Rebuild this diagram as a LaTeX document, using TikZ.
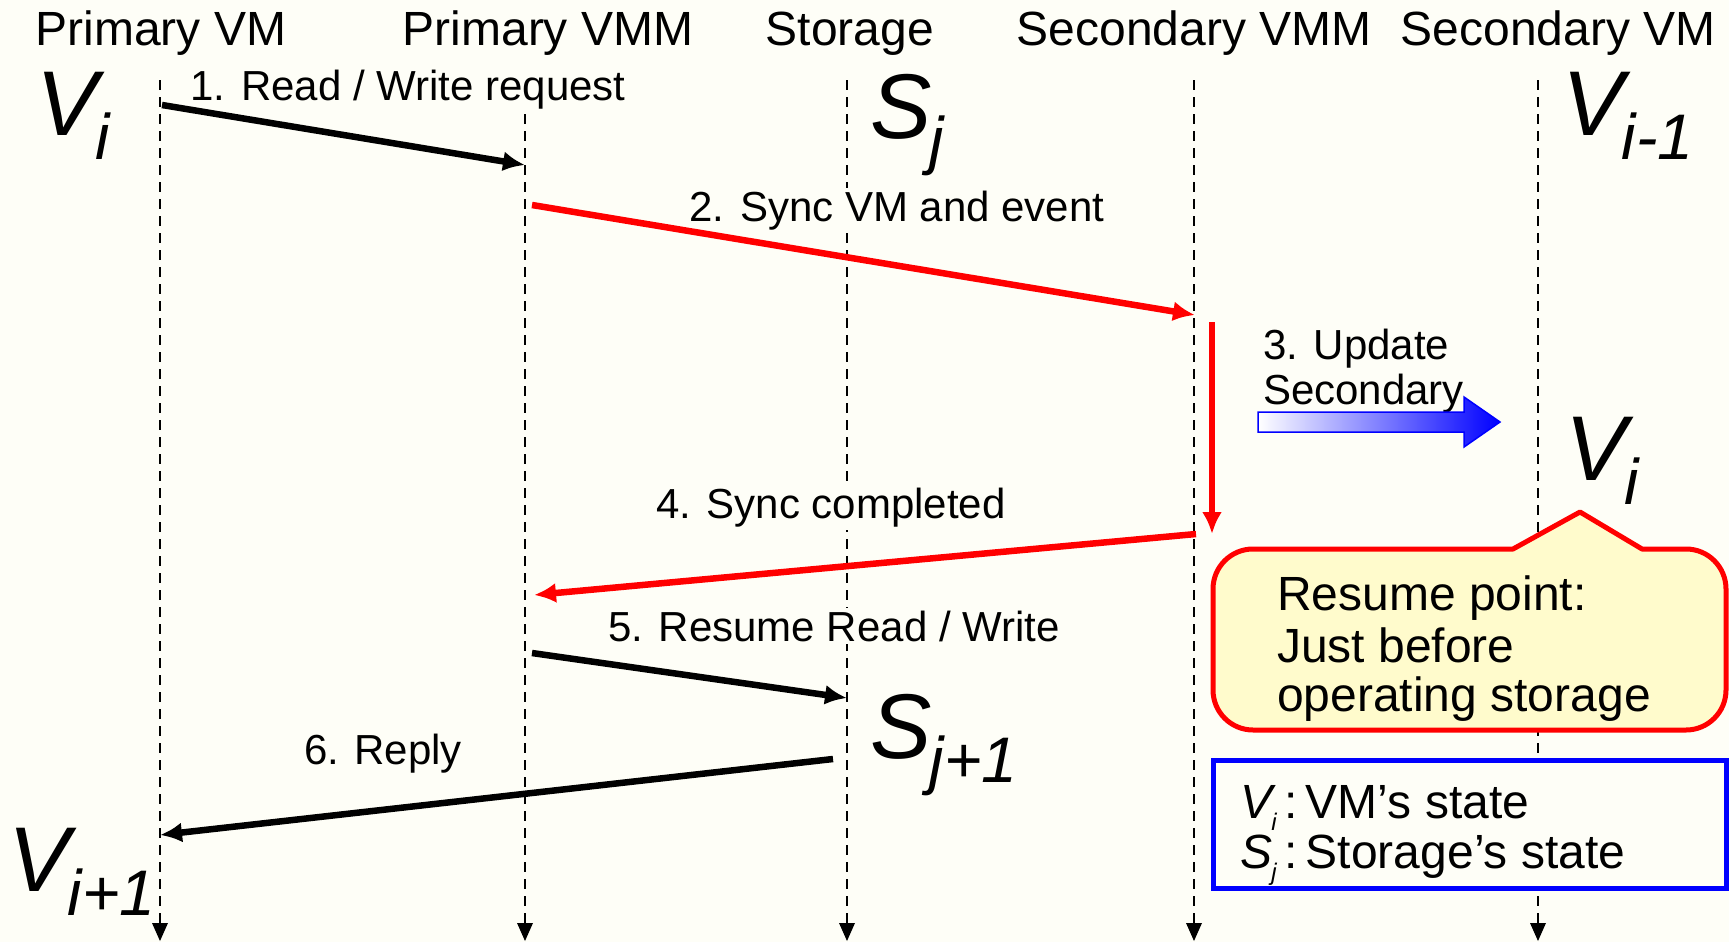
\documentclass[tikz,border=0pt]{standalone}
\usepackage{fontspec}
\setmainfont{Liberation Sans}
\usetikzlibrary{arrows.meta}
\definecolor{bg}{RGB}{254,254,247}
\definecolor{calloutfill}{RGB}{255,251,204}
\definecolor{sigred}{RGB}{255,0,0}
\definecolor{legblue}{RGB}{0,0,255}
% state symbol with a lowered, reduced subscript
\newcommand\stlabel[3][0.7]{{\itshape #2\kern-0.02em\raisebox{-0.27em}{\scalebox{#1}{#3}}}}
\newcommand\fs[1]{\fontsize{#1}{#1}\selectfont}
\begin{document}
\begin{tikzpicture}[x=1pt,y=-1pt,
  lifeline/.style={dash pattern=on 10pt off 7pt, line width=2.2pt},
  lifetip/.style={fill=black},
  title/.style={anchor=base, inner sep=0pt, font=\fs{48}},
  msglabel/.style={anchor=base, inner sep=3pt, fill=bg, font=\fs{42}},
  msg/.style={line width=6.5pt, -{Latex[length=22pt,width=20pt]}},
  redmsg/.style={msg, draw=sigred},
  bigstate/.style={anchor=base west, inner sep=0pt, font=\fs{92}},
  boxtext/.style={anchor=base west, inner sep=0pt, font=\fs{48}}]
\fill[bg] (0,0) rectangle (1729,942);
\useasboundingbox (0,0) rectangle (1729,942);

% lifelines, each ending in a solid arrow head
\foreach \n/\x in {pvm/160, pvmm/525, sto/847, svmm/1194, svm/1538}{
  \coordinate (\n-top) at (\x,80);
  \coordinate (\n-end) at (\x,923);
  \coordinate (\n-bot) at (\x,941);
  \draw[lifeline] (\n-top) -- (\n-end);
  \fill[lifetip] (\n-bot) -- ([xshift=-8pt]\n-end) -- ([xshift=8pt]\n-end) -- cycle;
}

% column titles
\node[title] (t1) at (161,46) {Primary VM};
\node[title] (t2) at (548,46) {Primary VMM};
\node[title] (t3) at (850,46) {Storage};
\node[title] (t4) at (1194,46) {Secondary VMM};
\node[title] (t5) at (1558,46) {Secondary VM};

% states
\node[bigstate] (vi0) at (36,135) {\stlabel{V}{i}};
\node[bigstate] (sj0) at (870,138) {\stlabel{S}{j}};
\node[bigstate] (vim1) at (1562,135) {\stlabel{V}{i-1}};
\node[bigstate] (vi1) at (1565,480) {\stlabel{V}{i}};
\node[bigstate] (sj1) at (870,758) {\stlabel{S}{j+1}};
\node[bigstate] (vip1) at (8,891) {\stlabel{V}{i+1}};

% message labels
\node[msglabel] (l1) at (408,100) {1. Read / Write request};
\node[msglabel] (l2) at (897,221) {2. Sync VM and event};
\node[anchor=base west, inner sep=0pt, font=\fs{42}] (l3a) at (1263,359) {3. Update};
\node[anchor=base west, inner sep=0pt, font=\fs{42}] (l3b) at (1263,404) {Secondary};
\node[msglabel] (l4) at (831,518) {4. Sync completed};
\node[msglabel] (l5) at (834,641) {5. Resume Read / Write};
\node[msglabel] (l6) at (383,764) {6. Reply};

% message end points on the lifelines
\coordinate (m1s) at (162,105);  \coordinate (m1e) at (525,165);
\coordinate (m2s) at (532,205);  \coordinate (m2e) at (1195,315);
\coordinate (m3s) at (1212,322); \coordinate (m3e) at (1212,534);
\coordinate (m4s) at (1196,534); \coordinate (m4e) at (534,595);
\coordinate (m5s) at (532,653);  \coordinate (m5e) at (847,698);
\coordinate (m6s) at (833,759);  \coordinate (m6e) at (160,835);

\draw[msg] (m1s) -- (m1e);
\draw[redmsg] (m2s) -- (m2e);
\draw[redmsg] (m3s) -- (m3e);
\draw[redmsg] (m4s) -- (m4e);
\draw[msg] (m5s) -- (m5e);
\draw[msg] (m6s) -- (m6e);

% update arrow towards the secondary VM
\shade[left color=white, right color=legblue]
  (1258,412) -- (1464,412) -- (1464,397) -- (1500,422) -- (1464,447) -- (1464,432) -- (1258,432) -- cycle;
\draw[legblue, line width=1.5pt, line join=miter]
  (1258,412) -- (1464,412) -- (1464,397) -- (1500,422) -- (1464,447) -- (1464,432) -- (1258,432) -- cycle;

% callout with resume point (angles measured with the y axis pointing down)
\draw[sigred, line width=5pt, fill=calloutfill, line join=round]
  (1580,512) -- (1642,549) -- (1686,549)
  arc[start angle=-90, end angle=0, radius=40] -- (1726,690)
  arc[start angle=0, end angle=90, radius=40] -- (1253,730)
  arc[start angle=90, end angle=180, radius=40] -- (1213,589)
  arc[start angle=180, end angle=270, radius=40] -- (1513,549) -- cycle;
\node[boxtext] (c1) at (1277,610) {Resume point:};
\node[boxtext] (c2) at (1277,662) {Just before};
\node[boxtext] (c3) at (1277,711) {operating storage};

% legend
\draw[legblue, line width=5pt, fill=bg] (1213,760) rectangle (1726,888);
\node[boxtext] (g1) at (1240,818) {\stlabel[0.5]{V}{i}\,:\,VM’s state};
\node[boxtext] (g2) at (1240,868) {\stlabel[0.5]{S}{j}\,:\,Storage’s state};
\end{tikzpicture}
\end{document}
